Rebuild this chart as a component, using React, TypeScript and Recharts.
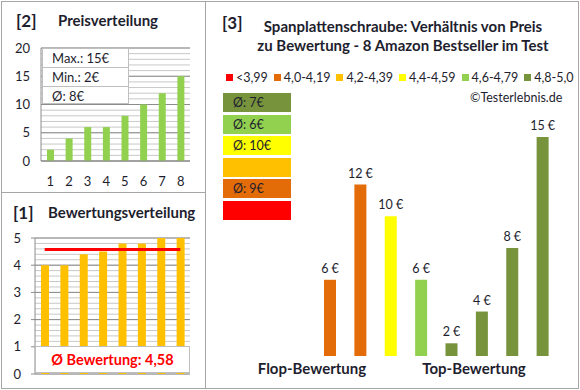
import React from "react";
import {Bar, BarChart, CartesianGrid, Cell, LabelList, ReferenceLine, XAxis, YAxis} from "recharts";

// [2] Preisverteilung
const priceCategories = ["1", "2", "3", "4", "5", "6", "7", "8"];
const priceValues = [2, 4, 6, 6, 8, 10, 12, 15];
const priceTicks = [0, 5, 10, 15, 20];
const priceSummary = ["Max.: 15€", "Min.: 2€", "Ø: 8€"];

// [1] Bewertungsverteilung
const ratingValues = [4.0, 4.0, 4.4, 4.5, 4.8, 4.8, 5.0, 5.0];
const ratingTicks = [0, 1, 2, 3, 4, 5];
const ratingAverage = 4.58;
const ratingAverageText = "Ø Bewertung: 4,58";

// [3] Preis zu Bewertung
const productPrices = [6, 12, 10, 6, 2, 4, 8, 15];
const productColors = ["#E36C09", "#E36C09", "#FFFF00", "#92D050", "#77933C", "#77933C", "#77933C", "#77933C"];
const legendLabels = ["<3,99", "4,0-4,19", "4,2-4,39", "4,4-4,59", "4,6-4,79", "4,8-5,0"];
const legendColors = ["#FF0000", "#E36C09", "#FFC000", "#FFFF00", "#92D050", "#77933C"];
const groupAverages = ["Ø: 7€", "Ø: 6€", "Ø: 10€", "", "Ø: 9€", ""];
const groupColors = ["#77933C", "#92D050", "#FFFF00", "#FFC000", "#E36C09", "#FF0000"];

const priceData = priceCategories.map((name, i) => ({name, value: priceValues[i]}));
const ratingData = priceCategories.map((name, i) => ({name, value: ratingValues[i]}));
const productData = productPrices.map((price, i) => ({name: String(i + 1), price}));

const priceMinor = Array.from({length: 21}, (_, i) => i);
const ratingMinor = Array.from({length: 26}, (_, i) => i / 5);

const border = "#A6A6A6";
const text = "#1E1E2E";

const priceLabel = (props: any) => {
    const {x, y, width, value} = props;
    return (
        <text x={Number(x) + Number(width) / 2} y={Number(y) - 7} textAnchor="middle" fontSize={12.5}
              fill={text} fontFamily="Lato, sans-serif">{`${value} €`}</text>
    );
};

export default function App() {
    return (
        <div style={{position: "fixed", left: 0, top: 0, width: 580, height: 390, background: "#fff",
            fontFamily: "Lato, sans-serif", color: text, overflow: "hidden", whiteSpace: "nowrap"}}>
            {/* frames */}
            <div style={{position: "absolute", left: 1, top: 1, width: 576, height: 386, border: `1px solid ${border}`}}/>
            <div style={{position: "absolute", left: 205, top: 1, width: 1, height: 388, background: border}}/>
            <div style={{position: "absolute", left: 1, top: 192, width: 205, height: 1, background: border}}/>

            {/* panel 2 */}
            <div style={{position: "absolute", left: 16, top: 10, fontSize: 17, fontWeight: 700}}>[2]</div>
            <div style={{position: "absolute", left: 58, top: 11, fontSize: 15, fontWeight: 700}}>Preisverteilung</div>
            <div style={{position: "absolute", left: 0, top: 0}}>
                <BarChart width={200} height={195} data={priceData} margin={{top: 48, right: 10, bottom: 4, left: 0}}>
                    <CartesianGrid vertical={false} horizontalValues={priceMinor} stroke="#C8C8C8"/>
                    <CartesianGrid vertical={false} horizontalValues={priceTicks} stroke="#8C8C8C"/>
                    <XAxis dataKey="name" height={30} tickLine={false} axisLine={{stroke: "#8C8C8C"}}
                           tickMargin={10} tick={{fontSize: 13, fill: text}} interval={0}/>
                    <YAxis width={41} domain={[0, 20]} ticks={priceTicks} tickLine={false} tickMargin={5}
                           axisLine={{stroke: "#8C8C8C"}} tick={{fontSize: 13, fill: text}} interval={0}/>
                    <Bar dataKey="value" fill="#92D050" barSize={7} isAnimationActive={false}/>
                </BarChart>
            </div>
            <div style={{position: "absolute", left: 42, top: 48, width: 87, height: 56, background: "#fff",
                border: "1px solid #BFBFBF", boxSizing: "border-box"}}>
                {priceSummary.map((s, i) => (
                    <div key={s} style={{height: 18, lineHeight: "18px", fontSize: 13, paddingLeft: 9,
                        borderTop: i > 0 ? "1px solid #BFBFBF" : "none"}}>{s}</div>
                ))}
            </div>

            {/* panel 1 */}
            <div style={{position: "absolute", left: 13, top: 202, fontSize: 17, fontWeight: 700}}>[1]</div>
            <div style={{position: "absolute", left: 48, top: 203, fontSize: 15, fontWeight: 700}}>Bewertungsverteilung</div>
            <div style={{position: "absolute", left: 0, top: 195}}>
                <BarChart width={200} height={193} data={ratingData} margin={{top: 43, right: 10, bottom: 14, left: 0}}>
                    <CartesianGrid vertical={false} horizontalValues={ratingMinor} stroke="#C8C8C8"/>
                    <CartesianGrid vertical={false} horizontalValues={ratingTicks} stroke="#8C8C8C"/>
                    <XAxis dataKey="name" hide/>
                    <YAxis width={35} domain={[0, 5]} ticks={ratingTicks} tickSize={4} tickMargin={10}
                           tickLine={{stroke: "#8C8C8C"}} axisLine={{stroke: "#8C8C8C"}}
                           tick={{fontSize: 13, fill: text}} interval={0}/>
                    <Bar dataKey="value" fill="#FFC000" barSize={8} isAnimationActive={false}/>
                    <ReferenceLine segment={[{x: "1", y: ratingAverage}, {x: "8", y: ratingAverage}]}
                                   stroke="#FF0000" strokeWidth={3}/>
                </BarChart>
            </div>
            <div style={{position: "absolute", left: 35, top: 346, width: 155, height: 27, background: "#fff",
                border: "1px solid #BFBFBF", boxSizing: "border-box", textAlign: "center", lineHeight: "25px",
                fontSize: 14.5, fontWeight: 700, color: "#FF0000"}}>{ratingAverageText}</div>

            {/* panel 3 */}
            <div style={{position: "absolute", left: 222, top: 12, fontSize: 17, fontWeight: 700}}>[3]</div>
            <div style={{position: "absolute", left: 230, top: 17, width: 346, textAlign: "center", fontSize: 15,
                fontWeight: 700, lineHeight: "19px"}}>
                Spanplattenschraube: Verhältnis von Preis<br/>zu Bewertung - 8 Amazon Bestseller im Test
            </div>
            <div style={{position: "absolute", left: 226, top: 70, display: "flex", gap: 6, fontSize: 12.5}}>
                {legendLabels.map((l, i) => (
                    <span key={l} style={{display: "flex", alignItems: "center", gap: 3}}>
                        <span style={{width: 7, height: 7, background: legendColors[i]}}/>{l}
                    </span>
                ))}
            </div>
            <div style={{position: "absolute", left: 470, top: 90, fontSize: 12.5}}>©Testerlebnis.de</div>
            {groupColors.map((c, i) => (
                <div key={i} style={{position: "absolute", left: 223, top: 93 + i * 21.6, width: 68, height: 19,
                    background: c, fontSize: 12.5, lineHeight: "19px", paddingLeft: 10, boxSizing: "border-box"}}>
                    {groupAverages[i]}
                </div>
            ))}
            <div style={{position: "absolute", left: 205, top: 0}}>
                <BarChart width={373} height={388} data={productData} margin={{top: 121, right: 20, bottom: 32, left: 110}}>
                    <XAxis dataKey="name" hide/>
                    <YAxis hide domain={[1.2, 16]} allowDataOverflow/>
                    <Bar dataKey="price" barSize={12} isAnimationActive={false}>
                        {productData.map((d, i) => <Cell key={d.name} fill={productColors[i]}/>)}
                        <LabelList dataKey="price" content={priceLabel}/>
                    </Bar>
                </BarChart>
            </div>
            <div style={{position: "absolute", left: 252, top: 359, width: 120, textAlign: "center", fontSize: 15,
                fontWeight: 700}}>Flop-Bewertung</div>
            <div style={{position: "absolute", left: 414, top: 359, width: 120, textAlign: "center", fontSize: 15,
                fontWeight: 700}}>Top-Bewertung</div>
        </div>
    );
}
